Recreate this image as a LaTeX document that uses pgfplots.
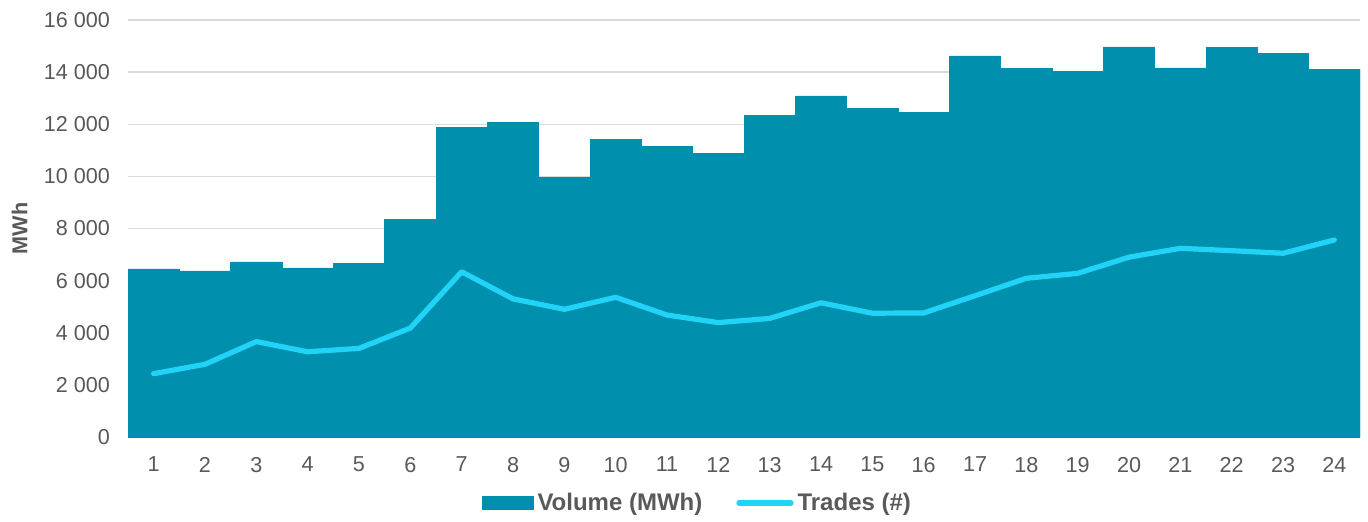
\documentclass[border=0pt]{standalone}
\usepackage{fontspec}
\setmainfont{Liberation Sans}
\usepackage{pgfplots}
\pgfplotsset{compat=1.18}
\usetikzlibrary{calc}

\definecolor{volteal}{HTML}{0090AE}
\definecolor{tradecyan}{HTML}{22D3F8}
\definecolor{txtgrey}{HTML}{595959}
\definecolor{gridgrey}{HTML}{D9D9D9}

\begin{document}
\begin{tikzpicture}
\begin{axis}[
  scale only axis,
  width=616pt, height=208.5pt,
  xmin=0.5, xmax=24.5, ymin=0, ymax=16000,
  xtick={1,...,24},
  ytick={0,2000,...,16000},
  scaled y ticks=false,
  major tick length=0pt,
  axis x line*=bottom, axis y line*=left,
  y axis line style={draw=none},
  x axis line style={draw=gridgrey, line width=0.8pt},
  ymajorgrids, grid style={gridgrey, line width=0.7pt},
  /pgf/number format/assume math mode=true,
  /pgf/number format/1000 sep={\ },
  tick label style={font=\fontsize{10.8}{12}\selectfont, text=txtgrey},
  xticklabel style={yshift=-6.5pt},
  yticklabel style={xshift=-5.5pt},
  ylabel={MWh},
  ylabel style={at={(axis description cs:-0.088,0.5)}, anchor=center,
    font=\fontsize{10.8}{12}\selectfont\bfseries, text=txtgrey},
  legend columns=2,
  legend style={at={(0.463,-0.158)}, anchor=center, draw=none, fill=none,
    font=\fontsize{12}{13}\selectfont\bfseries, text=txtgrey,
    /tikz/every even column/.append style={column sep=15pt}},
  legend cell align=left,
]
% Volume (MWh), hourly
\addplot[ybar, bar width=1, bar shift=0pt, fill=volteal, draw=volteal, line width=0.3pt,
  legend image code/.code={\fill[volteal] (0pt,-3.4pt) rectangle (25.5pt,3.4pt);}]
coordinates {
 (1,6450)(2,6370)(3,6720)(4,6490)(5,6670)(6,8350)(7,11870)(8,12060)
 (9,9950)(10,11420)(11,11140)(12,10870)(13,12340)(14,13090)(15,12610)(16,12460)
 (17,14620)(18,14150)(19,14030)(20,14970)(21,14160)(22,14940)(23,14720)(24,14110)
};
\addlegendentry{Volume (MWh)}
% Trades (#)
\addplot[tradecyan, line width=2.6pt, line cap=round, line join=round, mark=none,
  legend image code/.code={\draw[tradecyan, line width=2.6pt, line cap=round] (0pt,0pt) -- (26pt,0pt);}]
coordinates {
 (1,2430)(2,2790)(3,3660)(4,3270)(5,3400)(6,4180)(7,6340)(8,5300)
 (9,4900)(10,5360)(11,4680)(12,4390)(13,4550)(14,5150)(15,4750)(16,4760)
 (17,5420)(18,6090)(19,6280)(20,6900)(21,7240)(22,7150)(23,7050)(24,7560)
};
\addlegendentry{Trades (\#)}
\end{axis}
\pgfresetboundingbox
\path ($(current axis.south west)+(-64pt,-42pt)$) rectangle ($(current axis.north east)+(4pt,10pt)$);
\end{tikzpicture}
\end{document}
